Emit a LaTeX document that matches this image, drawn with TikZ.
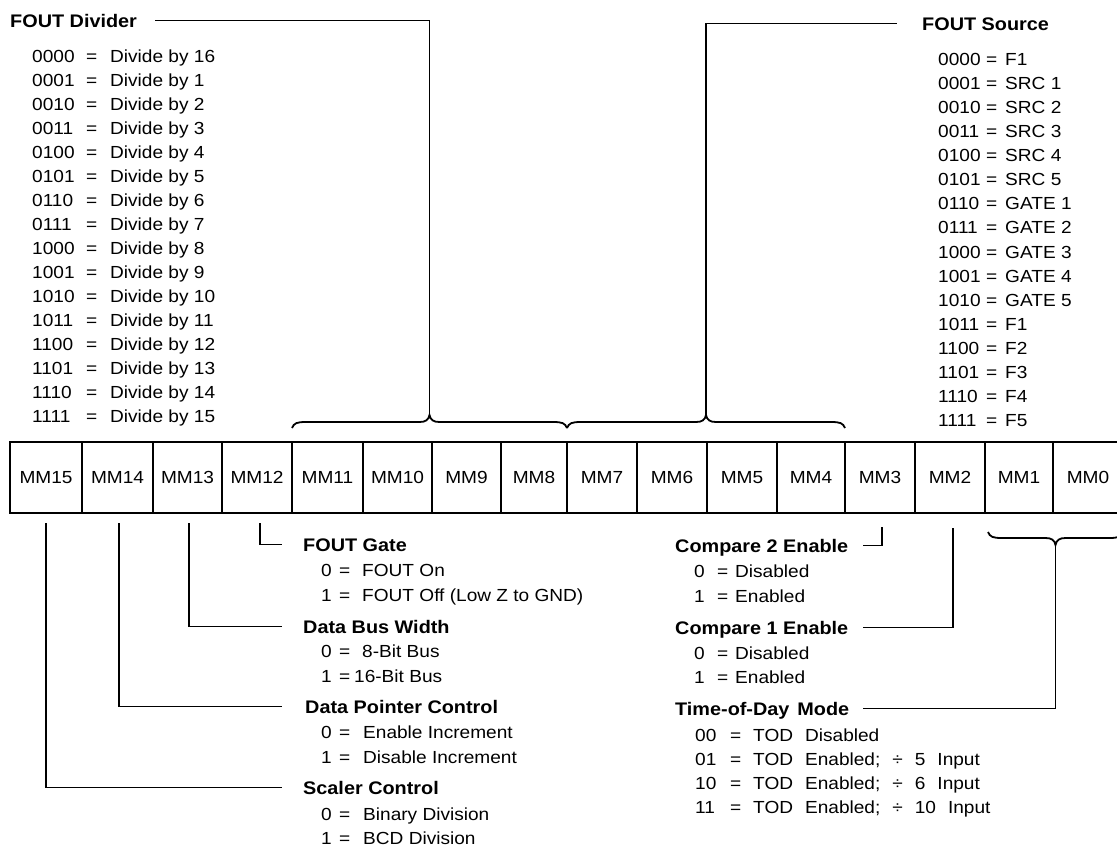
\documentclass[tikz,border=0pt]{standalone}
\usepackage{fontspec}
\setmainfont{Liberation Sans}[FakeStretch=1.09]
\newcommand\kv[4]{\rlap{#1}\hspace*{#2pt}\rlap{=}\hspace*{\dimexpr#3pt-#2pt\relax}#4}
\newcommand\rgf{\fontsize{17.5}{21}\selectfont}
\newcommand\bdf{\fontsize{18.2}{22}\selectfont\bfseries}
\newcommand\hbr[4]{%
  \pgfmathsetmacro\brm{(#1+#2)/2}%
  \pgfmathsetmacro\brye{#3+6*#4}%
  \pgfmathsetmacro\bryn{#3+1*#4}%
  \pgfmathsetmacro\bryt{#3-7*#4}%
  \pgfmathsetmacro\bryq{#3-2*#4}%
  \draw[conn] (#1,\brye) .. controls (#1+2,\bryn) and (#1+5,#3) .. (#1+14,#3) -- (\brm-10,#3)
    .. controls (\brm-4,#3) and (\brm-1,\bryq) .. (\brm,\bryt)
    .. controls (\brm+1,\bryq) and (\brm+4,#3) .. (\brm+10,#3) -- (#2-14,#3)
    .. controls (#2-5,#3) and (#2-2,\bryn) .. (#2,\brye);}
\begin{document}
\begin{tikzpicture}[x=1pt,y=-1pt,
  conn/.style={line width=1.8pt},
  lst/.style={anchor=base west, inner sep=0pt, font=\rgf},
  head/.style={anchor=base west, inner sep=0pt, font=\bdf, text height=13pt, text depth=0pt},
  cell/.style={draw, line width=2.2pt, minimum height=71pt, inner sep=0pt, outer sep=0pt, font=\rgf}]
\useasboundingbox (0,0) rectangle (1117,846);
\fill[white] (0,0) rectangle (1117,846);
\clip (0,0) rectangle (1117,846);

% register
\foreach \n/\a/\b in {15/10/82, 14/82/153, 13/153/222, 12/222/292, 11/292/363, 10/363/432,
  9/432/501, 8/501/567, 7/567/637, 6/637/707, 5/707/777, 4/777/845, 3/845/915, 2/915/985,
  1/985/1053, 0/1053/1123}
  \node[cell, minimum width={\b-\a}] (c\n) at ({(\a+\b)/2},477.5) {MM\n};

% FOUT Divider
\node[head] (fdh) at (10,27) {FOUT Divider};
\foreach \c/\d [count=\i from 0] in {0000/16, 0001/1, 0010/2, 0011/3, 0100/4, 0101/5, 0110/6,
  0111/7, 1000/8, 1001/9, 1010/10, 1011/11, 1100/12, 1101/13, 1110/14, 1111/15}
  \node[lst] (fd\i) at (32, 62+24*\i) {\kv{\c}{54}{78}{Divide by \d}};

% FOUT Source
\node[head] (fsh) at (922,30) {FOUT Source};
\foreach \c/\d [count=\i from 0] in {0000/F1, 0001/SRC 1, 0010/SRC 2, 0011/SRC 3, 0100/SRC 4,
  0101/SRC 5, 0110/GATE 1, 0111/GATE 2, 1000/GATE 3, 1001/GATE 4, 1010/GATE 5, 1011/F1,
  1100/F2, 1101/F3, 1110/F4, 1111/F5}
  \node[lst] (fs\i) at (938, 65+24.13*\i) {\kv{\c}{48}{67}{\d}};

% bottom left
\node[head] (fg) at (303,551) {FOUT Gate};
\node[lst] (fg0) at (321,576) {\kv{0}{18}{41}{FOUT On}};
\node[lst] (fg1) at (321,601) {\kv{1}{18}{41}{FOUT Off (Low Z to GND)}};
\node[head] (dbw) at (303,633) {Data Bus Width};
\node[lst] (dbw0) at (321,657) {\kv{0}{18}{41}{8-Bit Bus}};
\node[lst] (dbw1) at (321,682) {\kv{1}{18}{33}{16-Bit Bus}};
\node[head] (dpc) at (305,713) {Data Pointer Control};
\node[lst] (dpc0) at (321,738) {\kv{0}{18}{42}{Enable Increment}};
\node[lst] (dpc1) at (321,763) {\kv{1}{18}{42}{Disable Increment}};
\node[head] (sc) at (303,794) {Scaler Control};
\node[lst] (sc0) at (321,820) {\kv{0}{18}{42}{Binary Division}};
\node[lst] (sc1) at (321,844) {\kv{1}{18}{42}{BCD Division}};

% bottom right
\node[head] (cmp2) at (675,552) {Compare 2 Enable};
\node[lst] (cmp2a) at (694,577) {\kv{0}{23}{41}{Disabled}};
\node[lst] (cmp2b) at (694,602) {\kv{1}{23}{41}{Enabled}};
\node[head] (cmp1) at (675,634) {Compare 1 Enable};
\node[lst] (cmp1a) at (694,659) {\kv{0}{23}{41}{Disabled}};
\node[lst] (cmp1b) at (694,683) {\kv{1}{23}{41}{Enabled}};
\node[head] (tod) at (675,715) {Time-of-Day\hspace{8pt}Mode};
\node[lst] (tod0) at (695,741) {\spaceskip=12pt\relax\kv{00}{35}{58}{TOD Disabled}};
\node[lst] (tod1) at (695,765) {\spaceskip=12pt\relax\kv{01}{35}{58}{TOD Enabled; ÷ 5 Input}};
\node[lst] (tod2) at (695,789) {\spaceskip=12pt\relax\kv{10}{35}{58}{TOD Enabled; ÷ 6 Input}};
\node[lst] (tod3) at (695,813) {\spaceskip=12pt\relax\kv{11}{35}{58}{TOD Enabled; ÷ 10 Input}};

% braces
\hbr{292}{567}{422}{1}
\hbr{567}{845}{422}{1}
\hbr{988}{1123}{538}{(-1)}
\coordinate (tipA) at (429.5,415);
\coordinate (tipB) at (706,415);
\coordinate (tipC) at (1055.5,545);
\coordinate (hA) at (155,0);
\coordinate (hB) at (897,0);
\coordinate (ll) at (282,0);
\coordinate (rl) at (863,0);

% connectors
\draw[conn] (tipA) |- (fdh.east -| hA);
\draw[conn] (tipB) |- (fsh.west -| hB);
\draw[conn] ([yshift=-10pt]c15.south) |- (sc.west -| ll);
\draw[conn] ([xshift=1.5pt,yshift=-10pt]c14.south) |- (dpc.west -| ll);
\draw[conn] ([xshift=1.5pt,yshift=-10pt]c13.south) |- (dbw.west -| ll);
\draw[conn] ([xshift=3pt,yshift=-10pt]c12.south) |- (fg.west -| ll);
\draw[conn] ([xshift=2pt,yshift=-14pt]c3.south) |- (cmp2.east -| rl);
\draw[conn] ([xshift=3pt,yshift=-15pt]c2.south) |- (cmp1.east -| rl);
\draw[conn] (tipC) |- (tod.east -| rl);
\end{tikzpicture}
\end{document}
